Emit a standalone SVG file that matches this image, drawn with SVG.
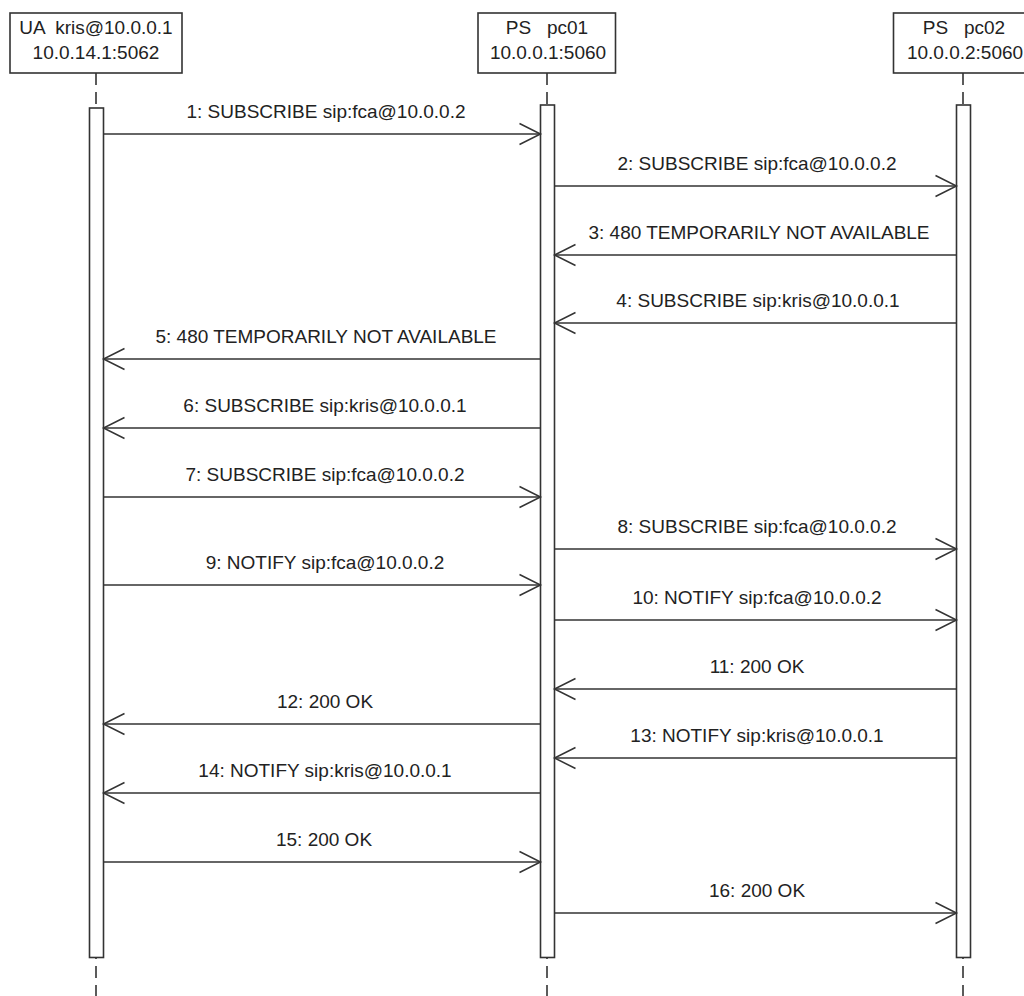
<svg xmlns="http://www.w3.org/2000/svg" width="1024" height="996" viewBox="0 0 1024 996">
<style>
text{font-family:"Liberation Sans",Arial,sans-serif;font-size:19px;fill:#222;text-anchor:middle;white-space:pre}
.box{fill:#fff;stroke:#333;stroke-width:1.6}
.life{stroke:#333;stroke-width:1.6;stroke-dasharray:12 7;fill:none}
.act{fill:#fff;stroke:#333;stroke-width:1.6}
.msg{stroke:#333;stroke-width:1.5;fill:none;marker-end:url(#open)}
</style>
<defs>
<marker id="open" markerUnits="userSpaceOnUse" markerWidth="30" markerHeight="30" viewBox="-25 -15 30 30" refX="0" refY="0" orient="auto" overflow="visible">
<path d="M-21,-10.5 L0,0 L-21,10.5" fill="none" stroke="#333" stroke-width="1.5"/>
</marker>
</defs>
<rect width="1024" height="996" fill="#fff"/>
<g id="lifelines">
<line class="life" x1="96" y1="73" x2="96" y2="996"/>
<line class="life" x1="547" y1="73" x2="547" y2="996"/>
<line class="life" x1="963" y1="73" x2="963" y2="996"/>
</g>
<g id="node-ua">
<rect class="box" x="10" y="13" width="172" height="60"/>
<text x="96" y="34" xml:space="preserve">UA  kris@10.0.0.1</text>
<text x="96" y="59">10.0.14.1:5062</text>
<rect class="act" x="89.5" y="108" width="14" height="849.5"/>
</g>
<g id="node-pc01">
<rect class="box" x="478" y="13" width="137.5" height="60"/>
<text x="547" y="34" xml:space="preserve">PS   pc01</text>
<text x="548" y="59">10.0.0.1:5060</text>
<rect class="act" x="540.5" y="105" width="14" height="852.5"/>
</g>
<g id="node-pc02">
<rect class="box" x="893.5" y="13" width="140" height="60"/>
<text x="964" y="34" xml:space="preserve">PS   pc02</text>
<text x="965" y="59">10.0.0.2:5060</text>
<rect class="act" x="956.5" y="105" width="14" height="852.5"/>
</g>
<g id="connectors">
<line class="msg" x1="103.5" y1="134" x2="540.5" y2="134"/>
<text x="326" y="118">1: SUBSCRIBE sip:fca@10.0.0.2</text>
<line class="msg" x1="554.5" y1="186" x2="956.5" y2="186"/>
<text x="757" y="170">2: SUBSCRIBE sip:fca@10.0.0.2</text>
<line class="msg" x1="956.5" y1="255" x2="554.5" y2="255"/>
<text x="759" y="239">3: 480 TEMPORARILY NOT AVAILABLE</text>
<line class="msg" x1="956.5" y1="323" x2="554.5" y2="323"/>
<text x="758" y="307">4: SUBSCRIBE sip:kris@10.0.0.1</text>
<line class="msg" x1="540.5" y1="359" x2="103.5" y2="359"/>
<text x="326" y="343">5: 480 TEMPORARILY NOT AVAILABLE</text>
<line class="msg" x1="540.5" y1="428" x2="103.5" y2="428"/>
<text x="325" y="412">6: SUBSCRIBE sip:kris@10.0.0.1</text>
<line class="msg" x1="103.5" y1="497" x2="540.5" y2="497"/>
<text x="325" y="481">7: SUBSCRIBE sip:fca@10.0.0.2</text>
<line class="msg" x1="554.5" y1="549" x2="956.5" y2="549"/>
<text x="757" y="533">8: SUBSCRIBE sip:fca@10.0.0.2</text>
<line class="msg" x1="103.5" y1="585" x2="540.5" y2="585"/>
<text x="325" y="569">9: NOTIFY sip:fca@10.0.0.2</text>
<line class="msg" x1="554.5" y1="620" x2="956.5" y2="620"/>
<text x="757" y="604">10: NOTIFY sip:fca@10.0.0.2</text>
<line class="msg" x1="956.5" y1="689" x2="554.5" y2="689"/>
<text x="757" y="673">11: 200 OK</text>
<line class="msg" x1="540.5" y1="724" x2="103.5" y2="724"/>
<text x="325" y="708">12: 200 OK</text>
<line class="msg" x1="956.5" y1="758" x2="554.5" y2="758"/>
<text x="757" y="742">13: NOTIFY sip:kris@10.0.0.1</text>
<line class="msg" x1="540.5" y1="793" x2="103.5" y2="793"/>
<text x="325" y="777">14: NOTIFY sip:kris@10.0.0.1</text>
<line class="msg" x1="103.5" y1="862" x2="540.5" y2="862"/>
<text x="324" y="846">15: 200 OK</text>
<line class="msg" x1="554.5" y1="913" x2="956.5" y2="913"/>
<text x="757" y="897">16: 200 OK</text>
</g>
</svg>
